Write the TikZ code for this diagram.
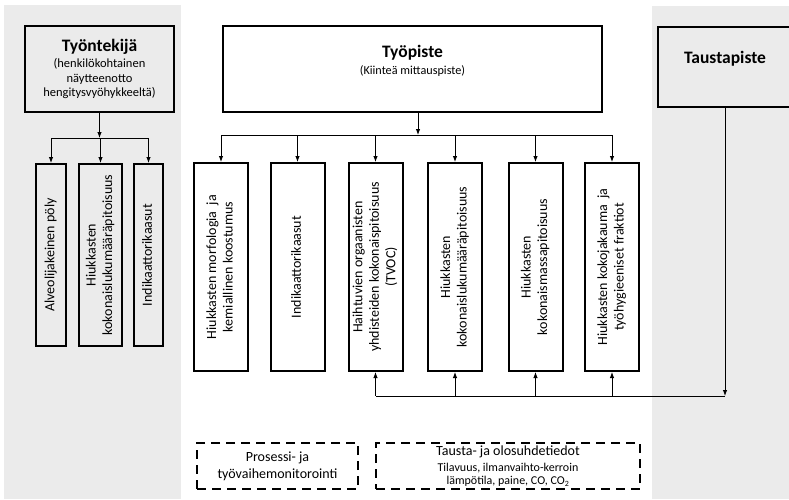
\documentclass[tikz,border=0pt]{standalone}
\usepackage{fontspec}
\setmainfont{Carlito}
\usepackage{graphicx}
\usetikzlibrary{arrows.meta}
\definecolor{paneeli}{HTML}{EBEBEB}
\newcommand{\kaanna}[1]{\rotatebox{90}{\begin{tabular}{@{}c@{}}#1\end{tabular}}}

\begin{document}
\begin{tikzpicture}[x=1pt,y=-1pt,
	laatikko/.style={draw,line width=2pt,inner sep=0pt},
	pysty/.style={laatikko,font=\fontsize{14}{16.5}\selectfont},
	otsikko/.style={font=\fontsize{17.5}{20}\selectfont\bfseries,inner sep=0pt},
	viiva/.style={line width=0.9pt},
	nuoli/.style={viiva,-{Latex[length=6pt,width=4.5pt]}},
	katko/.style={draw,line width=2pt,dash pattern=on 9pt off 6pt,inner sep=0pt,align=center,font=\fontsize{14}{17}\selectfont}]
	\useasboundingbox (0,0) rectangle (789,499);
	\clip (0,0) rectangle (789,499);
	\fill[white] (0,0) rectangle (789,499);
	\fill[paneeli] (4,5) rectangle (181,499);
	\fill[paneeli] (652,6) rectangle (789,499);
	
	% tyontekija ja sen mittaukset
	\node[laatikko,minimum width=149pt,minimum height=86pt,align=center,font=\fontsize{12.5}{14.5}\selectfont] (tyontekija) at (99.5,69)
		{{\fontsize{17.5}{20}\selectfont\bfseries Työntekijä}\\[1.5pt](henkilökohtainen\\näytteenotto\\hengitysvyöhykkeeltä)};
	\node[pysty,minimum width=30pt,minimum height=182pt] (alveoli) at (51,255) {\kaanna{Alveolijakeinen pöly}};
	\node[pysty,minimum width=43pt,minimum height=182pt] (lukum) at (100.5,255) {\kaanna{Hiukkasten\\kokonaislukumääräpitoisuus}};
	\node[pysty,minimum width=29pt,minimum height=182pt] (indik1) at (148.5,255) {\kaanna{Indikaattorikaasut}};
	
	\coordinate (haara1) at (99.5,138);
	\draw[nuoli] (tyontekija.south) -- (haara1);
	\draw[viiva] (alveoli.north |- haara1) -- (indik1.north |- haara1);
	\foreach \b in {alveoli,lukum,indik1}
	\draw[nuoli] (\b.north |- haara1) -- (\b.north);
	
	% tyopiste ja sen mittaukset
	\node[laatikko,minimum width=379pt,minimum height=86pt] (tyopiste) at (412.5,69) {};
	\node[align=center,inner sep=0pt,font=\fontsize{12.2}{14.5}\selectfont] (tyopisteteksti) at (412.5,60.5)
		{{\fontsize{17.5}{20}\selectfont\bfseries Työpiste}\\[2.5pt](Kiinteä mittauspiste)};
	\foreach \nimi/\x/\teksti in {morf/221/Hiukkasten morfologia\ \ ja\\kemiallinen koostumus,
		indik/297.5/Indikaattorikaasut,
		tvoc/375.5/Haihtuvien orgaanisten\\yhdisteiden kokonaispitoisuus\\(TVOC),
		luku/455/Hiukkasten\\kokonaislukumääräpitoisuus,
		massa/535.5/Hiukkasten\\kokonaismassapitoisuus,
		koko/612/Hiukkasten kokojakauma\ \ ja\\työhygieeniset fraktiot}
	\node[pysty,minimum width=54pt,minimum height=208pt] (\nimi) at (\x,267) {\kaanna{\teksti}};
	
	\coordinate (haara2) at (418,135);
	\draw[nuoli] (haara2 |- tyopiste.south) -- (haara2);
	\draw[viiva] (morf.north |- haara2) -- (koko.north |- haara2);
	\foreach \b in {morf,indik,tvoc,luku,massa,koko}
	\draw[nuoli] (\b.north |- haara2) -- (\b.north);
	
	% taustapiste
	\node[laatikko,fill=paneeli,minimum width=134pt,minimum height=80pt] (taustapiste) at (725,67) {};
	\node[otsikko] (taustaotsikko) at (725,58.5) {Taustapiste};
	
	\coordinate (kerays) at (725,396);
	\draw[nuoli] (taustapiste.south) -- (kerays);
	\draw[viiva] (kerays) -- (tvoc.south |- kerays);
	\foreach \b in {tvoc,luku,massa,koko}
	\draw[nuoli] (\b.south |- kerays) -- (\b.south);
	
	% taustatiedot
	\node[katko,minimum width=161pt,minimum height=46pt] (prosessi) at (277.5,466) {Prosessi- ja\\työvaihemonitorointi};
	\node[katko,minimum width=264pt,minimum height=46pt] (olosuhteet) at (508,466)
		{Tausta- ja olosuhdetiedot\\[-1pt]{\fontsize{12}{14}\selectfont Tilavuus, ilmanvaihto-kerroin}\\[-4pt]{\fontsize{12}{14}\selectfont lämpötila, paine, CO, CO\textsubscript{2}}};
\end{tikzpicture}
\end{document}
